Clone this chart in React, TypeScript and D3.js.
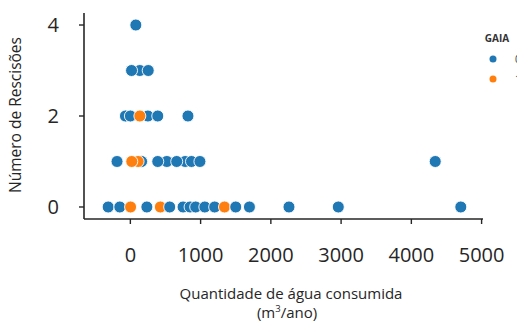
import React from "react";
import * as d3 from "d3";

// consumo de água (m3/ano), nº de rescisões e grupo GAIA, na ordem em que são desenhados
const agua = [
  -316, -150, 3, 235, 427, 560, 750, 850, 930, 1060, 1200, 1340, 1500, 1695, 2258, 2960, 4704,
  160, 110, 20, -190, 520, 390, 780, 660, 870, 990, 4340,
  -70, 0, 250, 135, 390, 820,
  135, 17, 254,
  78,
];
const rescisoes = [
  0, 0, 0, 0, 0, 0, 0, 0, 0, 0, 0, 0, 0, 0, 0, 0, 0,
  1, 1, 1, 1, 1, 1, 1, 1, 1, 1, 1,
  2, 2, 2, 2, 2, 2,
  3, 3, 3,
  4,
];
const gaia = [
  0, 0, 1, 0, 1, 0, 0, 0, 0, 0, 0, 1, 0, 0, 0, 0, 0,
  0, 1, 1, 0, 0, 0, 0, 0, 0, 0, 0,
  0, 0, 0, 1, 0, 0,
  0, 0, 0,
  0,
];
const grupos = ["0", "1"];
const xTicks = [0, 1000, 2000, 3000, 4000, 5000];
const yTicks = [0, 2, 4];

const W = 517;
const H = 322;
const font = "'Open Sans', sans-serif";

export default function App() {
  const x = d3.scaleLinear().domain([-660, 5020]).range([84, 483]);
  const y = d3.scaleLinear().domain([-0.264, 4.264]).range([219, 13]);
  const color = d3.scaleOrdinal<number, string>().domain([0, 1]).range(["#1f77b4", "#ff7f0e"]);

  const [x0, x1] = x.range();
  const [yb, yt] = y.range();

  return (
    <svg
      width={W}
      height={H}
      style={{ position: "absolute", left: 0, top: 0, background: "#fff" }}
      fontFamily={font}
    >
      {/* eixo y */}
      <line x1={x0} x2={x0} y1={yb} y2={yt} stroke="#262626" strokeWidth={1.6} />
      {yTicks.map((t) => (
        <g key={t} transform={`translate(0,${y(t)})`}>
          <line x1={x0 - 5} x2={x0} stroke="#262626" strokeWidth={1.4} />
          <text x={59} dy="0.36em" textAnchor="end" fontSize={20} fill="#262626">
            {t}
          </text>
        </g>
      ))}
      {/* eixo x */}
      <line x1={x0} x2={x1} y1={yb} y2={yb} stroke="#262626" strokeWidth={1.6} />
      {xTicks.map((t) => (
        <g key={t} transform={`translate(${x(t)},0)`}>
          <line y1={yb} y2={yb + 5} stroke="#262626" strokeWidth={1.4} />
          <text y={262} textAnchor="middle" fontSize={20} fill="#262626">
            {t}
          </text>
        </g>
      ))}

      {/* pontos */}
      {agua.map((v, i) => (
        <circle
          key={i}
          cx={x(v)}
          cy={y(rescisoes[i])}
          r={6}
          fill={color(gaia[i])}
          stroke="#fff"
          strokeWidth={0.9}
        />
      ))}

      {/* títulos */}
      <text
        transform={`translate(21,115) rotate(-90)`}
        textAnchor="middle"
        fontSize={15.5}
        fill="#262626"
      >
        Número de Rescisões
      </text>
      <text x={291} y={299} textAnchor="middle" fontSize={15} fill="#262626">
        Quantidade de água consumida
      </text>
      <text x={287} y={318} textAnchor="middle" fontSize={15} fill="#262626">
        (m<tspan dy={-6} fontSize={9.5}>3</tspan>
        <tspan dy={6}>/ano)</tspan>
      </text>

      {/* legenda */}
      <text x={497} y={42} textAnchor="middle" fontSize={10} fontWeight="bold" fill="#333">
        GAIA
      </text>
      {grupos.map((g, i) => (
        <g key={g} transform={`translate(0,${59 + i * 20})`}>
          <circle cx={493} r={3.5} fill={color(i)} />
          <text x={515} dy="0.35em" fontSize={10} fill="#333">
            {g}
          </text>
        </g>
      ))}
    </svg>
  );
}
